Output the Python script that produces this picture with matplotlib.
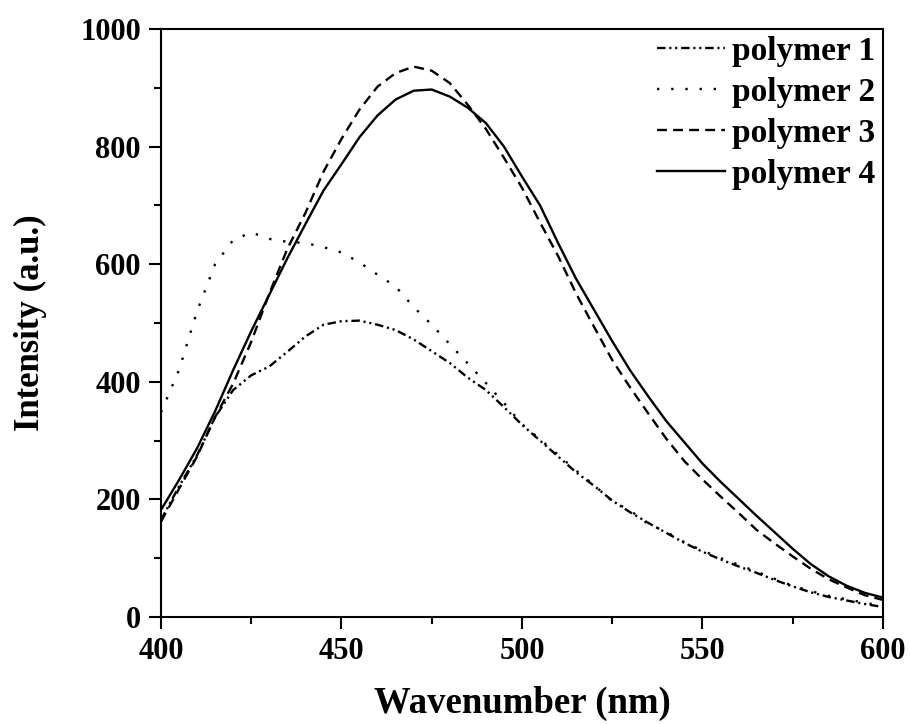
import numpy as np
import matplotlib
matplotlib.use("Agg")
import matplotlib.pyplot as plt
from matplotlib.ticker import MultipleLocator

plt.rcParams['font.family'] = ['Liberation Serif', 'DejaVu Serif']
plt.rcParams['font.weight'] = 'bold'

# wavelength grid (nm)
wl = np.arange(400, 601, 5)

# emission intensities (a.u.)
polymer1 = [165, 222, 275, 340, 386, 411, 426, 451, 477, 497,
            503, 504, 497, 488, 472, 452, 432, 407, 386, 357,
            327, 300, 273, 246, 223, 198, 178, 160, 143, 126,
            111, 98, 86, 75, 63, 52, 42, 34, 28, 22, 17]
polymer2 = [348, 420, 520, 600, 641, 654, 643, 638, 636, 629,
            620, 603, 582, 562, 527, 497, 464, 431, 398, 364,
            328, 302, 276, 249, 224, 197, 181, 158, 145, 127,
            113, 100, 89, 77, 65, 53, 44, 36, 30, 24, 19]
polymer3 = [162, 218, 273, 340, 397, 468, 550, 626, 687, 757,
            813, 863, 902, 925, 936, 929, 908, 871, 830, 781,
            730, 671, 614, 550, 493, 437, 390, 346, 303, 265,
            234, 205, 177, 148, 125, 103, 82, 64, 50, 37, 29]
polymer4 = [182, 233, 287, 350, 420, 486, 548, 610, 668, 725,
            770, 816, 853, 880, 895, 897, 885, 866, 840, 800,
            749, 700, 636, 575, 522, 469, 419, 375, 333, 297,
            261, 230, 201, 172, 144, 116, 90, 69, 53, 41, 33]

labels = ['polymer 1', 'polymer 2', 'polymer 3', 'polymer 4']

fig = plt.figure(figsize=(9.1, 7.24), dpi=100)
ax = fig.add_axes([0.1769, 0.1478, 0.7934, 0.8122])

lw = 1.7
ax.plot(wl, polymer1, color='black', lw=lw, linestyle=(0, (3.6, 1.6, 0.9, 1.6, 0.9, 1.6)), label=labels[0])
ax.plot(wl, polymer2, color='black', lw=lw, linestyle=(0, (1, 5)), label=labels[1])
ax.plot(wl, polymer3, color='black', lw=lw, linestyle=(0, (4.2, 2.6)), label=labels[2])
ax.plot(wl, polymer4, color='black', lw=lw, linestyle='-', label=labels[3])

ax.set_xlim(400, 600)
ax.set_ylim(0, 1000)
ax.xaxis.set_major_locator(MultipleLocator(50))
ax.xaxis.set_minor_locator(MultipleLocator(25))
ax.yaxis.set_major_locator(MultipleLocator(200))
ax.yaxis.set_minor_locator(MultipleLocator(100))

ax.tick_params(which='both', direction='out', width=1.5, top=False, right=False)
ax.tick_params(which='major', length=8.5, pad=6, labelsize=22)
ax.tick_params(which='minor', length=5)
for s in ax.spines.values():
    s.set_linewidth(1.5)

ax.set_xlabel('Wavenumber (nm)', fontsize=26.5, fontweight='bold', labelpad=14)
ax.set_ylabel('Intensity (a.u.)', fontsize=25, fontweight='bold', labelpad=24)

ax.legend(loc='upper right', bbox_to_anchor=(0.998, 1.0), frameon=False,
          fontsize=24, handlelength=2.05, handletextpad=0.2, labelspacing=0.3,
          borderpad=0.0, borderaxespad=0.2)

fig.savefig('out.png', dpi=100)
